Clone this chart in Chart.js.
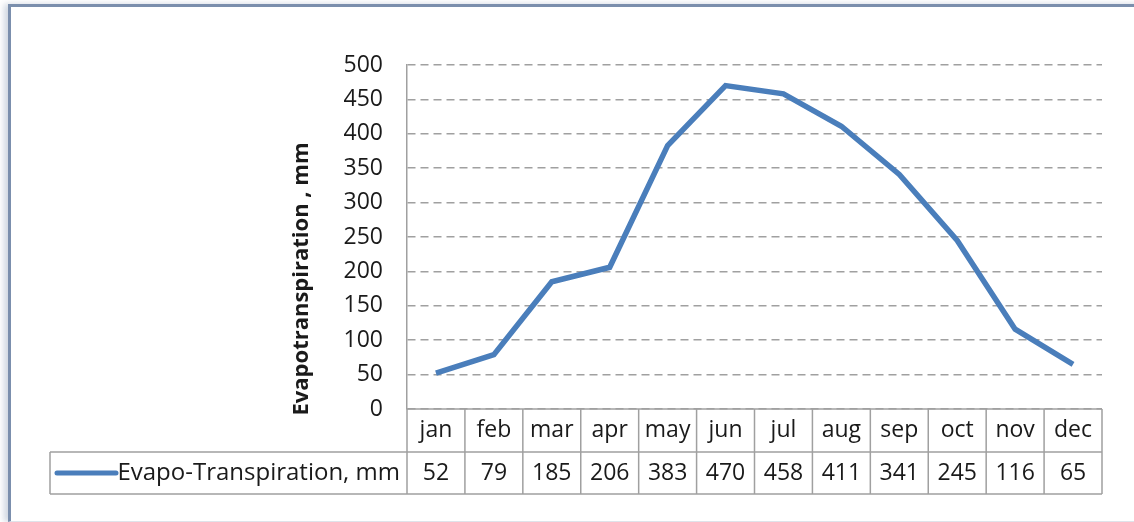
<!DOCTYPE html>
<html>
<head>
<meta charset="utf-8">
<script src="https://cdn.jsdelivr.net/npm/chart.js@4.4.7/dist/chart.umd.min.js"></script>
<style>
  html, body { margin: 0; padding: 0; background: #fff; overflow: hidden; }
  #frame {
    position: absolute; left: 8px; top: 4px; width: 1200px; height: 514px;
    border-top: 3px solid #7b8fad; border-left: 3px solid #7b8fad;
    border-bottom: 1px solid #dfe3ea;
    box-shadow: -4px 0 6px rgba(120, 140, 170, 0.35);
  }
  #wrap { position: absolute; left: 0; top: 0; width: 1134px; height: 522px; }
</style>
</head>
<body>
<div id="frame"></div>
<div id="wrap"><canvas id="chart" width="1134" height="522"></canvas></div>
<script>
// ===== データ =====
const months = ['jan', 'feb', 'mar', 'apr', 'may', 'jun', 'jul', 'aug', 'sep', 'oct', 'nov', 'dec'];
const evapo = [52, 79, 185, 206, 383, 470, 458, 411, 341, 245, 116, 65];
const seriesName = 'Evapo-Transpiration, mm';
const yTitle = 'Evapotranspiration , mm';

const lineColor = '#4a7ebb';
const gridColor = '#a0a0a0';
const textColor = '#1a1a1a';
const fontFamily = '"Open Sans", sans-serif';

// ===== データテーブル描画（Excel風） =====
const dataTablePlugin = {
  id: 'dataTable',
  afterDraw(chart) {
    const ctx = chart.ctx;
    const area = chart.chartArea;
    const xs = chart.scales.x;
    const n = months.length;
    const w = (area.right - area.left) / n;
    const row1 = area.bottom + 43;
    const row2 = row1 + 42;
    const legendLeft = 50;

    ctx.save();
    ctx.strokeStyle = gridColor;
    ctx.lineWidth = 1.5;
    ctx.setLineDash([]);
    ctx.beginPath();
    ctx.moveTo(area.left, area.bottom); ctx.lineTo(area.right, area.bottom);
    ctx.moveTo(legendLeft, row1); ctx.lineTo(area.right, row1);
    ctx.moveTo(legendLeft, row2); ctx.lineTo(area.right, row2);
    ctx.moveTo(legendLeft, row1); ctx.lineTo(legendLeft, row2);
    for (let i = 0; i <= n; i++) {
      const bx = area.left + i * w;
      ctx.moveTo(bx, area.bottom); ctx.lineTo(bx, row2);
    }
    ctx.stroke();

    ctx.fillStyle = textColor;
    ctx.font = '23px ' + fontFamily;
    ctx.textAlign = 'center';
    ctx.textBaseline = 'middle';
    months.forEach((m, i) => {
      const cx = xs.getPixelForValue(i);
      ctx.fillText(m, cx, (area.bottom + row1) / 2);
      ctx.fillText(String(evapo[i]), cx, (row1 + row2) / 2);
    });

    // 凡例キー
    ctx.font = '24px ' + fontFamily;
    ctx.strokeStyle = lineColor;
    ctx.lineWidth = 5;
    ctx.lineCap = 'round';
    ctx.beginPath();
    ctx.moveTo(57, (row1 + row2) / 2); ctx.lineTo(116, (row1 + row2) / 2);
    ctx.stroke();
    ctx.textAlign = 'right';
    ctx.fillText(seriesName, area.left - 7, (row1 + row2) / 2);

    // Y軸タイトル
    ctx.translate(302, 279);
    ctx.rotate(-Math.PI / 2);
    ctx.font = 'bold 22px ' + fontFamily;
    ctx.textAlign = 'center';
    ctx.fillText(yTitle, 0, 0);
    ctx.restore();
  }
};

// ===== チャート =====
new Chart(document.getElementById('chart').getContext('2d'), {
  type: 'line',
  data: {
    labels: months,
    datasets: [{
      label: seriesName,
      data: evapo,
      borderColor: lineColor,
      borderWidth: 5.5,
      pointRadius: 0,
      tension: 0,
      fill: false
    }]
  },
  options: {
    responsive: false,
    animation: false,
    layout: { padding: { left: 0, top: 65, right: 32, bottom: 113 } },
    plugins: { legend: { display: false }, tooltip: { enabled: false } },
    scales: {
      x: { display: false, offset: true },
      y: {
        min: 0,
        max: 500,
        ticks: {
          stepSize: 50,
          padding: 24,
          color: textColor,
          font: { family: fontFamily, size: 23 }
        },
        grid: { color: gridColor, lineWidth: 1.5, drawTicks: false },
        border: { color: gridColor, width: 1.5, dash: [8, 5] },
        afterFit(scale) { scale.width = 407; }
      }
    }
  },
  plugins: [dataTablePlugin]
});
</script>
</body>
</html>
